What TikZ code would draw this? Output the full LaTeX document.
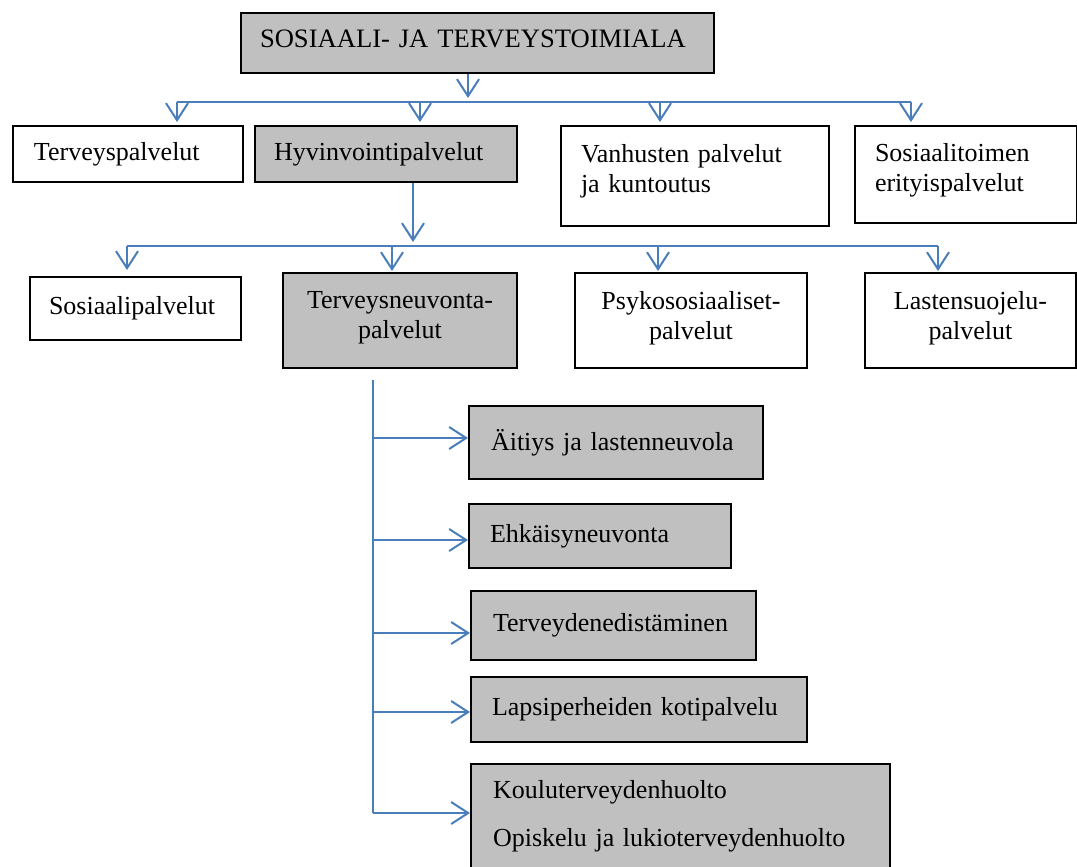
\documentclass[tikz,border=0pt]{standalone}
\usepackage{fontspec}
\setmainfont{Liberation Serif}
\usetikzlibrary{arrows.meta}
\definecolor{linkblue}{HTML}{4A7EBB}
\definecolor{boxgray}{HTML}{C0C0C0}
\begin{document}
\begin{tikzpicture}[x=1pt,y=-1pt,
  box/.style={draw=black, line width=2pt, anchor=north west, inner ysep=0pt,
    align=left, font=\fontsize{26}{30}\selectfont},
  grey/.style={box, fill=boxgray},
  centred/.style={align=center},
  link/.style={draw=linkblue, line width=2pt},
  arr/.style={link, -{Straight Barb[length=17pt,width=22pt]}},
]
\useasboundingbox (0,0) rectangle (1077,867);
\clip (0,0) rectangle (1077,867);

% top level
\node[grey, minimum width=473pt, minimum height=60pt, inner xsep=19pt, text width=435pt,
  font=\fontsize{26.6}{30}\selectfont, text depth=8pt]
  (top) at (240,12) {\mbox{SOSIAALI- JA TERVEYSTOIMIALA}};

% first row
\node[box, minimum width=230pt, minimum height=56pt, inner xsep=21pt, text width=188pt]
  (terv) at (12,125) {\mbox{Terveyspalvelut}};
\node[grey, minimum width=262pt, minimum height=56pt, inner xsep=19pt, text width=224pt]
  (hyv) at (254,125) {\mbox{Hyvinvointipalvelut}};
\node[box, minimum width=268pt, minimum height=100pt, inner xsep=20pt, text width=228pt,
  text depth=46pt]
  (van) at (560,125) {Vanhusten palvelut\\ja kuntoutus};
\node[box, minimum width=222pt, minimum height=97pt, inner xsep=20pt, text width=182pt,
  text depth=44pt]
  (sos) at (854,125) {Sosiaalitoimen\\erityispalvelut};

% second row
\node[box, minimum width=211pt, minimum height=63pt, inner xsep=19pt, text width=173pt]
  (sosp) at (29,276) {\mbox{Sosiaalipalvelut}};
\node[grey, centred, minimum width=234pt, minimum height=95pt, inner xsep=10pt, text width=214pt,
  text depth=41pt]
  (terneu) at (282,272) {Terveysneuvonta-\\palvelut};
\node[box, centred, minimum width=232pt, minimum height=95pt, inner xsep=10pt, text width=212pt,
  text depth=41pt]
  (psyk) at (574,272) {Psykososiaaliset-\\palvelut};
\node[box, centred, minimum width=211pt, minimum height=95pt, inner xsep=10pt, text width=191pt,
  text depth=41pt]
  (last) at (864,272) {Lastensuojelu-\\palvelut};

% third level list
\node[grey, minimum width=294pt, minimum height=73pt, inner xsep=22pt, text width=250pt]
  (ait) at (468,405) {\mbox{Äitiys ja lastenneuvola}};
\node[grey, minimum width=262pt, minimum height=64pt, inner xsep=21pt, text width=220pt]
  (ehk) at (468,503) {\mbox{Ehkäisyneuvonta}};
\node[grey, minimum width=285pt, minimum height=69pt, inner xsep=22pt, text width=241pt]
  (ted) at (470,590) {\mbox{Terveydenedistäminen}};
\node[grey, minimum width=336pt, minimum height=65pt, inner xsep=21pt, text width=294pt]
  (lap) at (470,676) {\mbox{Lapsiperheiden kotipalvelu}};
\node[grey, minimum width=419pt, minimum height=138pt, inner xsep=22pt, text width=375pt]
  (kou) at (470,763) {Kouluterveydenhuolto\\[18pt]\mbox{Opiskelu ja lukioterveydenhuolto}\\[10pt]\mbox{}};

% connectors: top level to first row
\coordinate (drop1) at (468,98);
\coordinate (bus1w) at (177,102);
\coordinate (bus1b) at (420,102);
\coordinate (bus1c) at (660,102);
\coordinate (bus1e) at (911,102);
\draw[arr] (top.south -| drop1) -- (drop1);
\draw[link] (bus1w) -- (bus1e);
\draw[arr, shorten >=3pt] (bus1w) -- (bus1w |- terv.north);
\draw[arr, shorten >=3pt] (bus1b) -- (bus1b |- hyv.north);
\draw[arr, shorten >=3pt] (bus1c) -- (bus1c |- van.north);
\draw[arr, shorten >=3pt] (bus1e) -- (bus1e |- sos.north);

% connectors: Hyvinvointipalvelut to second row
\coordinate (drop2) at (413,242);
\coordinate (bus2w) at (127,246);
\coordinate (bus2b) at (392,246);
\coordinate (bus2c) at (658,246);
\coordinate (bus2e) at (938,246);
\draw[arr] (hyv.south -| drop2) -- (drop2);
\draw[link] (bus2w) -- (bus2e);
\draw[arr, shorten >=6pt] (bus2w) -- (bus2w |- sosp.north);
\draw[arr, shorten >=1pt] (bus2b) -- (bus2b |- terneu.north);
\draw[arr, shorten >=1pt] (bus2c) -- (bus2c |- psyk.north);
\draw[arr, shorten >=1pt] (bus2e) -- (bus2e |- last.north);

% connectors: trunk under Terveysneuvontapalvelut
\coordinate (trunk) at (373,380);
\coordinate (trunkend) at (373,813);
\draw[link] (trunk) -- (trunkend);
\coordinate (aitin) at ([yshift=-33pt]ait.north west);
\coordinate (ehkin) at ([yshift=-37pt]ehk.north west);
\coordinate (tedin) at ([yshift=-43pt]ted.north west);
\coordinate (lapin) at ([yshift=-36pt]lap.north west);
\coordinate (kouin) at ([yshift=-50pt]kou.north west);
\draw[arr] (trunk |- aitin) -- (aitin);
\draw[arr] (trunk |- ehkin) -- (ehkin);
\draw[arr] (trunk |- tedin) -- (tedin);
\draw[arr] (trunk |- lapin) -- (lapin);
\draw[arr] (trunkend) -- (kouin);
\end{tikzpicture}
\end{document}
